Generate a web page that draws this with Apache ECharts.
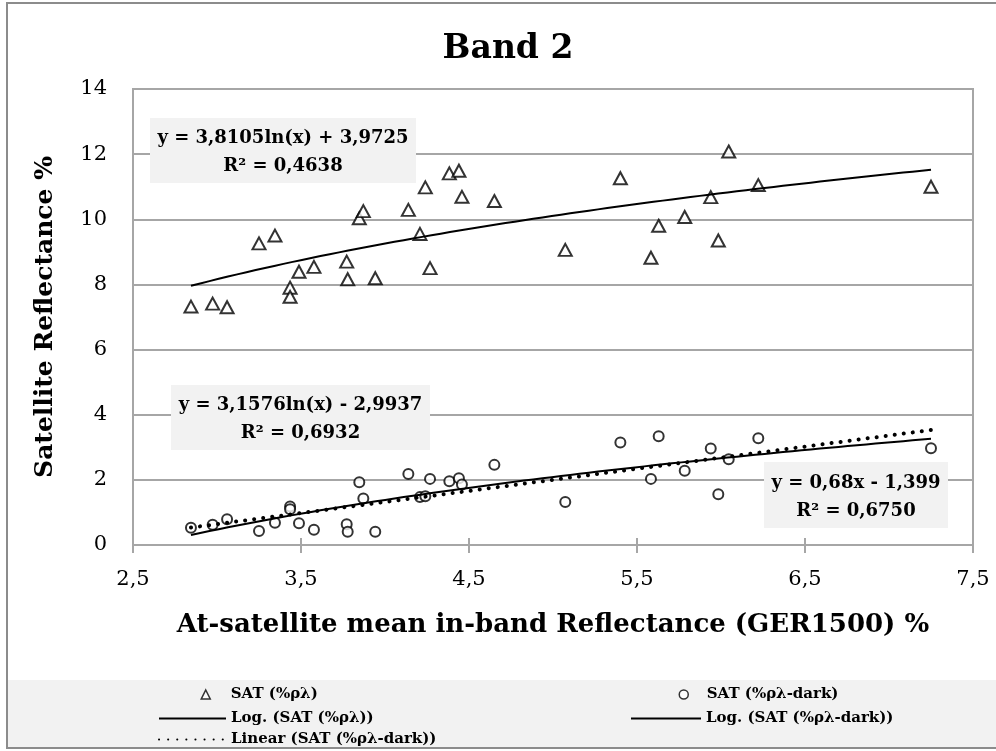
<!DOCTYPE html>
<html>
<head>
<meta charset="utf-8">
<script src="https://cdn.jsdelivr.net/npm/echarts@6/dist/echarts.min.js"></script>
<style>
  html, body { margin: 0; padding: 0; background: #fff; }
  #chart { width: 996px; height: 751px; }
</style>
</head>
<body>
<div id="chart"></div>
<script>
// GER1500 at-satellite mean in-band reflectance (%) for each site
const gerReflectance = [
  2.845, 2.974, 3.060, 3.250, 3.345, 3.435, 3.435, 3.488, 3.577, 3.772,
  3.778, 3.847, 3.871, 3.942, 4.139, 4.208, 4.240, 4.268, 4.383, 4.440,
  4.458, 4.651, 5.073, 5.401, 5.583, 5.629, 5.784, 5.939, 5.984, 6.046,
  6.222, 7.250
];
// Satellite reflectance (%ρλ)
const satReflectance = [
  7.32, 7.41, 7.30, 9.26, 9.50, 7.90, 7.62, 8.39, 8.54, 8.70,
  8.16, 10.03, 10.25, 8.19, 10.29, 9.55, 10.98, 8.50, 11.41, 11.49,
  10.69, 10.56, 9.06, 11.26, 8.82, 9.80, 10.07, 10.68, 9.35, 12.08,
  11.05, 11.00
];
// Satellite reflectance after dark-object correction (%ρλ-dark)
const satDarkReflectance = [
  0.53, 0.62, 0.79, 0.43, 0.68, 1.18, 1.10, 0.67, 0.47, 0.64,
  0.41, 1.93, 1.43, 0.41, 2.18, 1.47, 1.50, 2.03, 1.96, 2.05,
  1.86, 2.46, 1.32, 3.15, 2.03, 3.34, 2.28, 2.96, 1.56, 2.63,
  3.28, 2.97
];
// Trend line coefficients (as printed in the equation boxes)
const logSat = { a: 3.8105, b: 3.9725, r2: '0,4638' };
const logDark = { a: 3.1576, b: -2.9937, r2: '0,6932' };
const linDark = { m: 0.68, c: -1.399, r2: '0,6750' };

const xTicks = { min: 2.5, max: 7.5, step: 1 };
const yTicks = { min: 0, max: 14, step: 2 };

const names = {
  sat: 'SAT (%ρλ)',
  dark: 'SAT (%ρλ-dark)',
  logSat: 'Log. (SAT (%ρλ))',
  logDark: 'Log. (SAT (%ρλ-dark))',
  linDark: 'Linear (SAT (%ρλ-dark))'
};

const FONT = '"DejaVu Serif", "Liberation Serif", serif';

const xMin = Math.min(...gerReflectance);
const xMax = Math.max(...gerReflectance);
function logCurve(c) {
  const pts = [];
  const n = 80;
  for (let i = 0; i <= n; i++) {
    const x = xMin + (xMax - xMin) * i / n;
    pts.push([x, c.a * Math.log(x) + c.b]);
  }
  return pts;
}
const linLine = [xMin, xMax].map(x => [x, linDark.m * x + linDark.c]);

const fmtNum = (v, d) => v.toFixed(d).replace('.', ',');

const chart = echarts.init(document.getElementById('chart'), null, { renderer: 'canvas' });

const grid = { left: 133, right: 23, top: 89, bottom: 206 };
const gridLine = '#a6a6a6';

// Equation label: grey box with two centred lines of bold text
function eqBox(x, y, w, h, l1, l2) {
  const font = 'bold 18px ' + FONT;
  return [
    { type: 'rect', z: 60, shape: { x: x, y: y, width: w, height: h }, style: { fill: '#f2f2f2' } },
    { type: 'text', z: 61, x: x + w / 2, y: y + h * 0.32,
      style: { text: l1, font: font, fill: '#000', align: 'center', verticalAlign: 'middle' } },
    { type: 'text', z: 61, x: x + w / 2, y: y + h * 0.74,
      style: { text: l2, font: font, fill: '#000', align: 'center', verticalAlign: 'middle' } }
  ];
}

const legendText = { fontFamily: FONT, fontWeight: 'bold', fontSize: 15, color: '#000' };
// Marker entries: small symbol, label pushed right to line up with the line entries
function legendMarker(name, cx, cy, textLeft) {
  const s = 9;
  return {
    data: [name], left: cx - s / 2, top: cy - 8, itemWidth: s, itemHeight: s,
    symbolKeepAspect: true, selectedMode: false, padding: 0,
    textStyle: Object.assign({ padding: [0, 0, 0, textLeft - (cx + s / 2) - 5] }, legendText),
    itemStyle: { borderWidth: 1.5 }
  };
}
// Line entries: stroke only, no symbol
function legendLine(name, left, cy, w) {
  return {
    data: [name], left: left, top: cy - 8, itemWidth: w, itemHeight: 14,
    selectedMode: false, padding: 0, textStyle: legendText,
    itemStyle: { color: 'rgba(0,0,0,0)', borderWidth: 0, opacity: 0 }
  };
}

const option = {
  backgroundColor: '#fff',
  animation: false,
  title: {
    text: 'Band 2', left: 503, top: 28, textAlign: 'center',
    textStyle: { fontFamily: FONT, fontWeight: 'bold', fontSize: 33, color: '#000' }
  },
  grid: Object.assign({ show: true, borderColor: gridLine, borderWidth: 2, backgroundColor: '#fff' }, grid),
  xAxis: [{
    type: 'value', min: xTicks.min, max: xTicks.max, interval: xTicks.step,
    name: 'At-satellite mean in-band Reflectance (GER1500) %',
    nameLocation: 'middle', nameGap: 67,
    nameTextStyle: { fontFamily: FONT, fontWeight: 'bold', fontSize: 26, color: '#000' },
    axisLine: { lineStyle: { color: gridLine, width: 2 } },
    axisTick: { show: true, length: 8, lineStyle: { color: gridLine, width: 2 } },
    axisLabel: { margin: 24, fontFamily: FONT, fontSize: 21, color: '#000', formatter: v => fmtNum(v, 1) },
    splitLine: { show: false }
  }, {
    type: 'value', min: xTicks.min, max: xTicks.max, interval: xTicks.step, position: 'bottom',
    axisLine: { show: false },
    axisTick: { show: true, inside: true, length: 7, lineStyle: { color: gridLine, width: 2 } },
    axisLabel: { show: false }, splitLine: { show: false }
  }],
  yAxis: {
    type: 'value', min: yTicks.min, max: yTicks.max, interval: yTicks.step,
    name: 'Satellite Reflectance %', nameLocation: 'middle', nameGap: 75,
    nameTextStyle: { fontFamily: FONT, fontWeight: 'bold', fontSize: 25, color: '#000' },
    axisLine: { show: true, lineStyle: { color: gridLine, width: 2 } },
    axisTick: { show: false },
    axisLabel: { margin: 26, fontFamily: FONT, fontSize: 21, color: '#000', formatter: v => String(v) },
    splitLine: { lineStyle: { color: gridLine, width: 2 } }
  },
  legend: [
    legendMarker(names.sat, 205, 695, 230),
    legendMarker(names.dark, 683, 695, 706),
    legendLine(names.logSat, 158, 719, 67),
    legendLine(names.logDark, 630, 719, 70),
    legendLine(names.linDark, 158, 740, 67)
  ],
  series: [
    {
      name: names.sat, type: 'scatter', symbol: 'triangle', symbolSize: [13, 12],
      data: gerReflectance.map((x, i) => [x, satReflectance[i]]),
      itemStyle: { color: '#fff', borderColor: '#000', borderWidth: 2 }, z: 3
    },
    {
      name: names.dark, type: 'scatter', symbol: 'circle', symbolSize: 10,
      data: gerReflectance.map((x, i) => [x, satDarkReflectance[i]]),
      itemStyle: { color: '#fff', borderColor: '#000', borderWidth: 2 }, z: 3
    },
    {
      name: names.logSat, type: 'line', data: logCurve(logSat), symbol: 'none',
      lineStyle: { color: '#000', width: 2 }, itemStyle: { color: '#000' }, z: 4
    },
    {
      name: names.logDark, type: 'line', data: logCurve(logDark), symbol: 'none',
      lineStyle: { color: '#000', width: 2 }, itemStyle: { color: '#000' }, z: 4
    },
    {
      name: names.linDark, type: 'line', data: linLine, symbol: 'none',
      lineStyle: { color: '#000', width: 4, type: [0.1, 9], cap: 'round' }, itemStyle: { color: '#000' }, z: 4
    }
  ],
  graphic: [
    { type: 'rect', z: -10, shape: { x: 7, y: 680, width: 989, height: 68 }, style: { fill: '#f2f2f2' } },
    { type: 'rect', z: 100, shape: { x: 7, y: 3, width: 1000, height: 745 }, style: { fill: null, stroke: '#8c8c8c', lineWidth: 2 } }
  ].concat(
    eqBox(150, 118, 266, 65, 'y = ' + fmtNum(logSat.a, 4) + 'ln(x) + ' + fmtNum(logSat.b, 4), 'R² = ' + logSat.r2),
    eqBox(171, 385, 259, 65, 'y = ' + fmtNum(logDark.a, 4) + 'ln(x) - ' + fmtNum(-logDark.b, 4), 'R² = ' + logDark.r2),
    eqBox(764, 462, 184, 66, 'y = ' + fmtNum(linDark.m, 2) + 'x - ' + fmtNum(-linDark.c, 3), 'R² = ' + linDark.r2)
  )
};

chart.setOption(option);
</script>
</body>
</html>
